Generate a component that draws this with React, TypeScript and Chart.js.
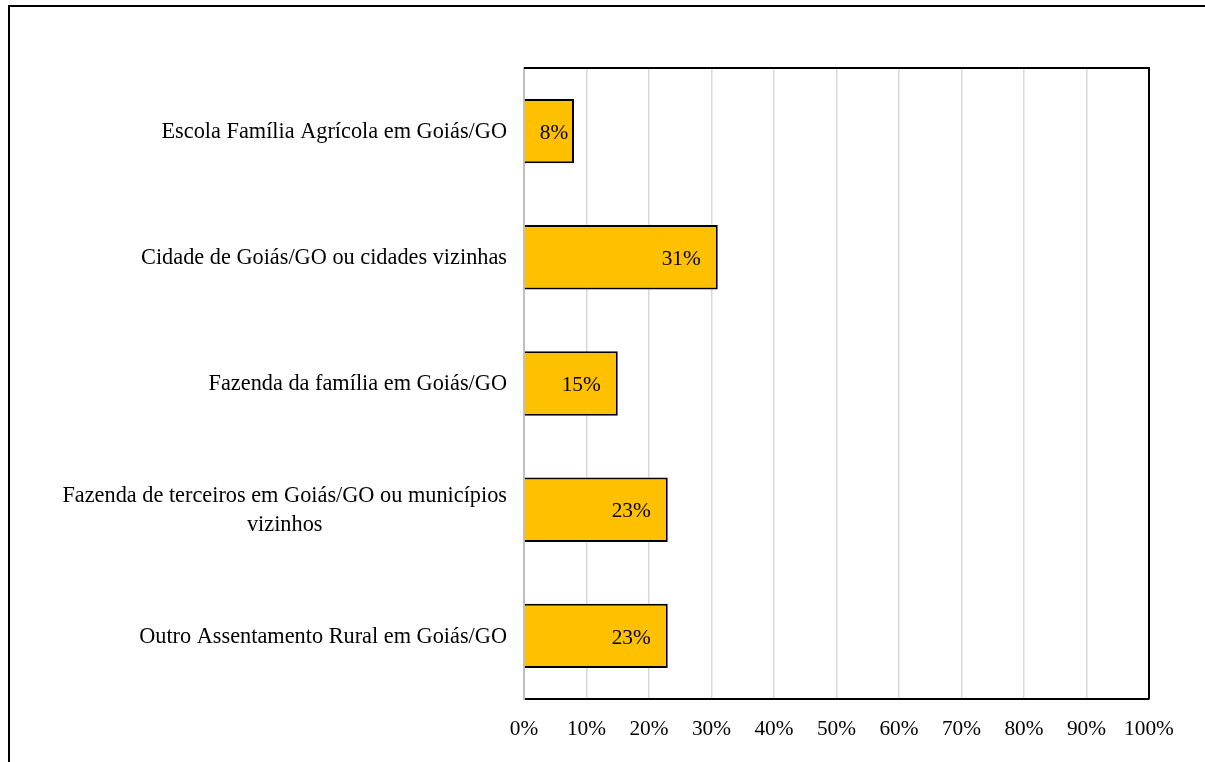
import React, { useEffect, useRef } from "react";
import { Chart, registerables } from "chart.js";

Chart.register(...registerables);

const categories: string[][] = [
  ["Escola Família Agrícola em Goiás/GO"],
  ["Cidade de Goiás/GO ou cidades vizinhas"],
  ["Fazenda da família em Goiás/GO"],
  ["Fazenda de terceiros em Goiás/GO ou municípios", "vizinhos"],
  ["Outro Assentamento Rural em Goiás/GO"],
];
const values: number[] = [8, 31, 15, 23, 23];
const xTicks: number[] = [0, 10, 20, 30, 40, 50, 60, 70, 80, 90, 100];

const FONT = '"Liberation Serif", "Times New Roman", serif';
const FONT_SIZE = 21.33;
const CAT_FONT_SIZE = 22.3;

const frameAndBorderPlugin = {
  id: "frameAndBorder",
  beforeDraw(chart: any) {
    const ctx = chart.ctx;
    ctx.save();
    ctx.fillStyle = "#ffffff";
    ctx.fillRect(0, 0, chart.width, chart.height);
    ctx.strokeStyle = "#000000";
    ctx.lineWidth = 2;
    ctx.beginPath();
    ctx.moveTo(9, chart.height + 5);
    ctx.lineTo(9, 6);
    ctx.lineTo(chart.width + 5, 6);
    ctx.stroke();
    ctx.restore();
  },
  afterDraw(chart: any) {
    const { ctx, chartArea } = chart;
    ctx.save();
    ctx.strokeStyle = "#000000";
    ctx.lineWidth = 2;
    ctx.beginPath();
    ctx.moveTo(chartArea.left, chartArea.top);
    ctx.lineTo(chartArea.right, chartArea.top);
    ctx.lineTo(chartArea.right, chartArea.bottom);
    ctx.stroke();
    ctx.restore();
  },
};

const yLabelPlugin = {
  id: "yLabels",
  afterDraw(chart: any) {
    const { ctx, chartArea } = chart;
    const yScale = chart.scales.y;
    const rightEdge = chartArea.left - 17;
    const lineHeight = 29;
    ctx.save();
    ctx.font = `${CAT_FONT_SIZE}px ${FONT}`;
    ctx.fillStyle = "#000000";
    ctx.textAlign = "center";
    ctx.textBaseline = "middle";
    categories.forEach((lines, i) => {
      const y = yScale.getPixelForValue(i);
      const maxW = Math.max(...lines.map((l) => ctx.measureText(l).width));
      const cx = rightEdge - maxW / 2;
      const startY = y - ((lines.length - 1) * lineHeight) / 2 + 1;
      lines.forEach((l, j) => {
        ctx.fillText(l, cx, startY + j * lineHeight);
      });
    });
    ctx.restore();
  },
};

const dataLabelPlugin = {
  id: "dataLabels",
  afterDatasetsDraw(chart: any) {
    const { ctx } = chart;
    const meta = chart.getDatasetMeta(0);
    ctx.save();
    ctx.font = `${FONT_SIZE}px ${FONT}`;
    ctx.fillStyle = "#000000";
    ctx.textAlign = "right";
    ctx.textBaseline = "middle";
    meta.data.forEach((bar: any, i: number) => {
      const text = `${values[i]}%`;
      const w = ctx.measureText(text).width;
      const right = Math.max(bar.x - 17, bar.base + 15 + w);
      ctx.fillText(text, right, bar.y + 2);
    });
    ctx.restore();
  },
};

export default function App() {
  const canvasRef = useRef<HTMLCanvasElement | null>(null);

  useEffect(() => {
    if (!canvasRef.current) return;
    const chart = new Chart(canvasRef.current, {
      type: "bar",
      data: {
        labels: categories.map((c) => c.join(" ")),
        datasets: [
          {
            data: values,
            backgroundColor: "#FFC000",
            borderColor: "#000000",
            borderWidth: 2,
            borderSkipped: "start",
            barPercentage: 0.51,
            categoryPercentage: 1,
          },
        ],
      },
      options: {
        indexAxis: "y",
        responsive: false,
        animation: false,
        devicePixelRatio: 1,
        layout: { padding: { top: 68, right: 56, bottom: 0, left: 0 } },
        plugins: {
          legend: { display: false },
          tooltip: { enabled: false },
          title: { display: false },
        },
        scales: {
          x: {
            type: "linear",
            min: 0,
            max: 100,
            afterBuildTicks: (scale: any) => {
              scale.ticks = xTicks.map((v) => ({ value: v }));
            },
            afterFit: (scale: any) => {
              scale.height = 63;
            },
            grid: {
              color: "#d9d9d9",
              lineWidth: 1.5,
              drawTicks: false,
            },
            border: { display: true, color: "#000000", width: 2 },
            ticks: {
              padding: 18,
              color: "#000000",
              font: { family: FONT, size: FONT_SIZE },
              callback: (v: any) => `${v}%`,
            },
          },
          y: {
            type: "category",
            afterFit: (scale: any) => {
              scale.width = 524;
            },
            grid: { display: false, drawTicks: false },
            border: { display: true, color: "#bfbfbf", width: 2 },
            ticks: { display: false },
          },
        },
      },
      plugins: [frameAndBorderPlugin, yLabelPlugin, dataLabelPlugin],
    });
    return () => chart.destroy();
  }, []);

  return (
    <div
      style={{
        position: "fixed",
        left: 0,
        top: 0,
        width: 1205,
        height: 762,
        overflow: "hidden",
        background: "#ffffff",
      }}
    >
      <canvas ref={canvasRef} width={1205} height={762} style={{ display: "block" }} />
    </div>
  );
}
